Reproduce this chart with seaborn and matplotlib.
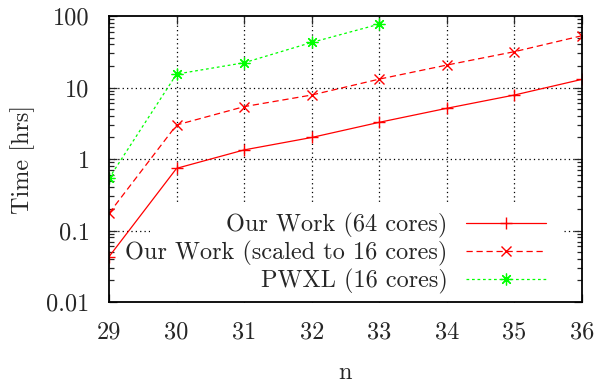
import numpy as np
import pandas as pd
import matplotlib
matplotlib.use("Agg")
import matplotlib.pyplot as plt
import matplotlib.ticker as mticker
from matplotlib.patches import Rectangle
import seaborn as sns

# ---- data ----
n_values = [29, 30, 31, 32, 33, 34, 35, 36]
ours_64 = [0.043, 0.74, 1.34, 2.0, 3.26, 5.12, 7.85, 13.0]
ours_16 = [0.174, 2.99, 5.4, 7.85, 13.1, 20.6, 31.7, 53.0]
pwxl_n = [29, 30, 31, 32, 33]
pwxl_16 = [0.537, 15.4, 22.2, 42.7, 77.0]
labels = ["Our Work (64 cores)", "Our Work (scaled to 16 cores)", "PWXL (16 cores)"]
y_ticks = [0.01, 0.1, 1, 10, 100]
y_ticklabels = ["0.01", "0.1", "1", "10", "100"]

sns.set_style("ticks")
plt.rcParams["font.family"] = ["cmr10", "DejaVu Serif"]
plt.rcParams["axes.formatter.use_mathtext"] = True
plt.rcParams["mathtext.fontset"] = "cm"

FS = 17.5
fig = plt.figure(figsize=(5.97, 3.85), dpi=100)
ax = fig.add_axes([109 / 597, 1 - 302 / 385, (582 - 109) / 597, (302 - 16) / 385])

df1 = pd.DataFrame({"n": n_values, "t": ours_64})
df2 = pd.DataFrame({"n": n_values, "t": ours_16})
df3 = pd.DataFrame({"n": pwxl_n, "t": pwxl_16})

red = "#ff0000"
green = "#00ff00"
sns.lineplot(data=df1, x="n", y="t", ax=ax, color=red, lw=0.9, marker="+",
             markersize=8, markeredgewidth=1.0, markeredgecolor=red,
             label=labels[0], zorder=3)
sns.lineplot(data=df2, x="n", y="t", ax=ax, color=red, lw=0.9, marker="x",
             markersize=7.5, markeredgewidth=1.0, markeredgecolor=red,
             label=labels[1], zorder=3)
sns.lineplot(data=df3, x="n", y="t", ax=ax, color=green, lw=0.9, marker=(8, 2, 0),
             markersize=8.5, markeredgewidth=0.9, markeredgecolor=green,
             label=labels[2], zorder=3)
ax.lines[1].set_dashes([5, 3])
ax.lines[2].set_dashes([2.2, 2.2])

ax.set_yscale("log")
ax.set_xlim(n_values[0], n_values[-1])
ax.set_ylim(y_ticks[0], y_ticks[-1])
ax.set_xticks(n_values)
ax.set_xticklabels([str(v) for v in n_values])
ax.yaxis.set_major_locator(mticker.FixedLocator(y_ticks))
ax.yaxis.set_major_formatter(mticker.FixedFormatter(y_ticklabels))
ax.yaxis.set_minor_locator(mticker.LogLocator(base=10, subs=np.arange(2, 10)))
ax.yaxis.set_minor_formatter(mticker.NullFormatter())

# dotted grid, drawn below a white key region
for xv in n_values[1:-1]:
    ax.axvline(xv, color="black", lw=0.9, ls=(0, (1, 2.5)), zorder=0.5)
for yv in y_ticks[1:-1]:
    ax.axhline(yv, color="black", lw=0.9, ls=(0, (1, 2.5)), zorder=0.5)
ax.add_patch(Rectangle(((150 - 109) / 473, 0.0), (563 - 150) / 473, (302 - 205) / 286,
                       transform=ax.transAxes, facecolor="white", edgecolor="none", zorder=0.8))

ax.tick_params(which="major", direction="in", length=6, width=0.9, top=True, right=True,
               labelsize=FS, pad=14)
ax.tick_params(which="minor", direction="in", length=3.5, width=0.9, right=True, left=True)
ax.tick_params(axis="x", which="minor", bottom=False, top=False)
for s in ax.spines.values():
    s.set_linewidth(1.3)
    s.set_color("black")
    s.set_zorder(4)

ax.set_xlabel("n", fontsize=FS, labelpad=13)
ax.set_ylabel("Time [hrs]", fontsize=FS, labelpad=8)

leg = ax.legend(loc="lower right", bbox_to_anchor=((546 - 109) / 473, (302 - 294) / 286),
                frameon=False, markerfirst=False, fontsize=FS, handlelength=3.3,
                handletextpad=0.75, labelspacing=0.12, borderpad=0, borderaxespad=0)

fig.savefig("out.png", dpi=100)
